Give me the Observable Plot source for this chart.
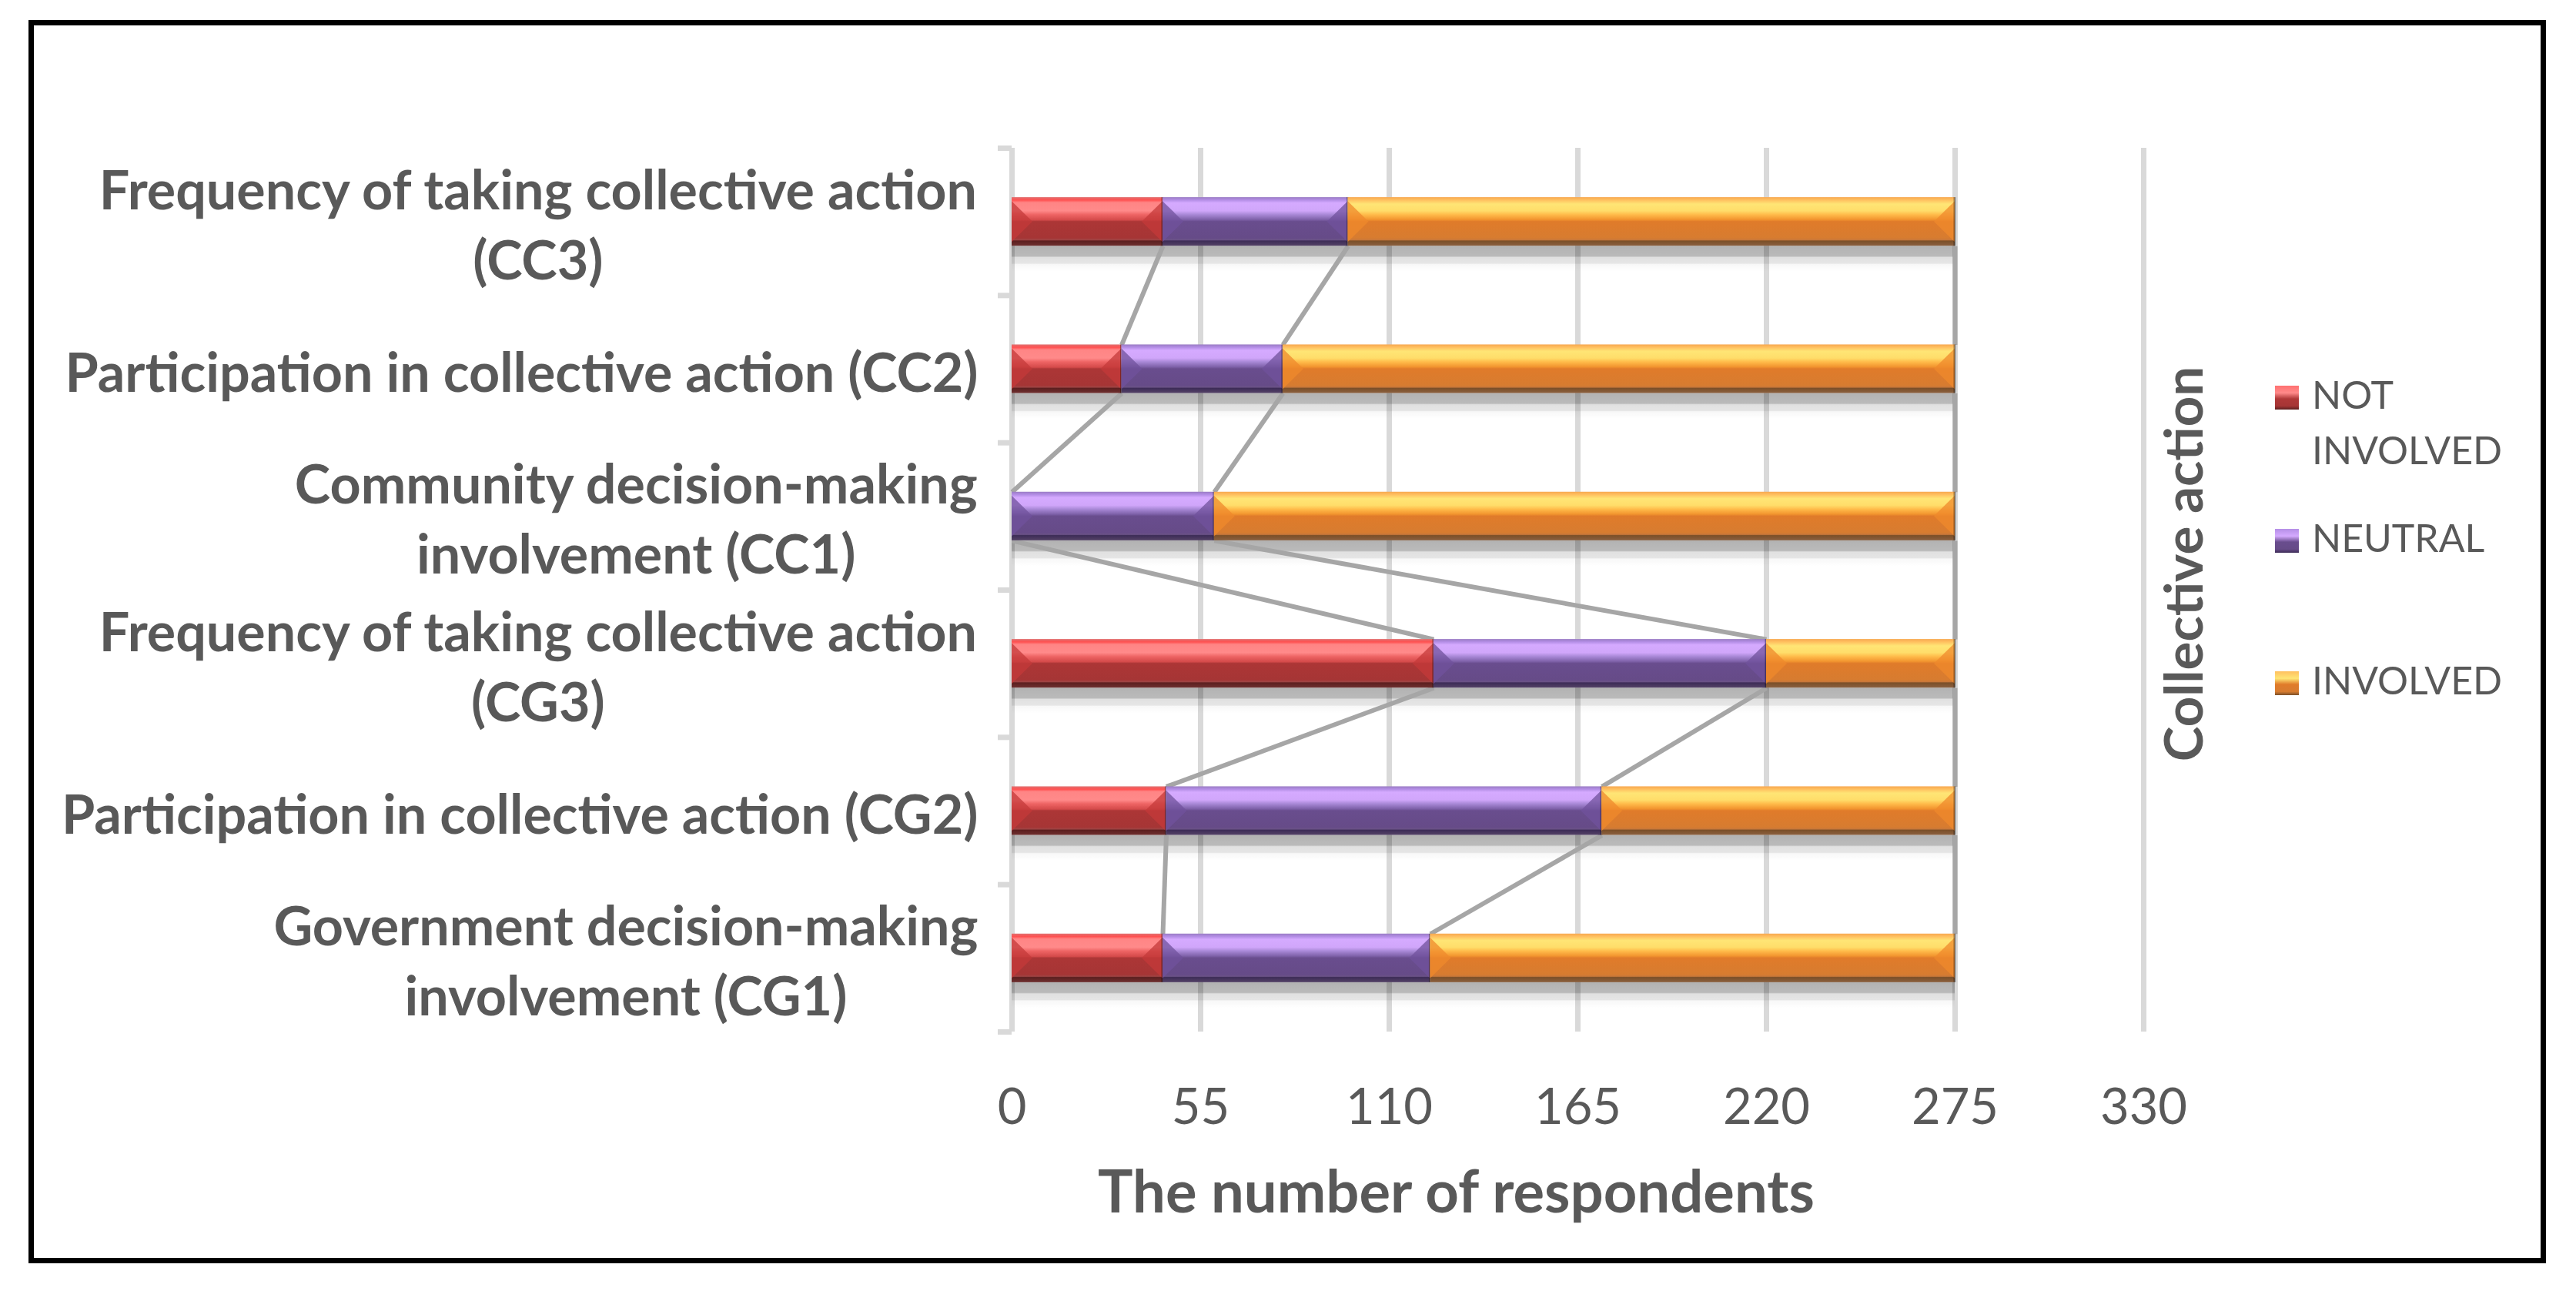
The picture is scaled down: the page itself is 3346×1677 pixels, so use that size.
<!DOCTYPE html>
<html><head><meta charset="utf-8">
<script src="https://cdn.jsdelivr.net/npm/d3@7"></script>
<script src="https://cdn.jsdelivr.net/npm/@observablehq/plot@0.6"></script>
<style>
html,body{margin:0;padding:0;background:#fff;}
#wrap{position:relative;width:3346px;height:1677px;overflow:hidden;background:#fff;}
#frame{position:absolute;left:37px;top:26px;width:3256px;height:1601px;border:7px solid #000;pointer-events:none;}
.leg{position:absolute;font-family:Lato,sans-serif;font-size:50px;color:#595959;line-height:72px;white-space:nowrap;}
.sw{position:absolute;width:31px;height:31px;}
</style></head><body><div id="wrap"><div id="frame"></div></div>
<script>
const categories = [
  "Frequency of taking collective action\n(CC3)",
  "Participation in collective action (CC2)",
  "Community decision-making\ninvolvement (CC1)",
  "Frequency of taking collective action\n(CG3)",
  "Participation in collective action (CG2)",
  "Government decision-making\ninvolvement (CG1)"
];
const seriesNames = ["NOT INVOLVED", "NEUTRAL", "INVOLVED"];
const notInvolved = [44, 32, 0, 123, 45, 44];
const neutral     = [54, 47, 59, 97, 127, 78];
const involved    = [177, 196, 216, 55, 103, 153];
const xTicks = [0, 55, 110, 165, 220, 275, 330];
const xLabel = "The number of respondents";
const sideTitle = "Collective action";

const values = [notInvolved, neutral, involved];
const gradIds = ["gRed", "gPurple", "gOrange"];
const bevelColors = ["#c43a3a", "#70519c", "#ef8a2c"];
const half = 0.165;

const segs = [];
categories.forEach((c, i) => {
  let s = 0;
  values.forEach((arr, k) => {
    if (arr[i] > 0) segs.push({i, k, x1: s, x2: s + arr[i]});
    s += arr[i];
  });
});
const cum = values.map((_, k) => categories.map((c, i) => values.slice(0, k + 1).reduce((a, arr) => a + arr[i], 0)));
const totals = cum[2];
const links = [];
for (let k = 0; k < 3; k++)
  for (let i = 0; i < categories.length - 1; i++)
    links.push({x1: cum[k][i], y1: i + half, x2: cum[k][i + 1], y2: i + 1 - half});

// measure label widths for centered multi-line labels right-aligned to the axis
const LABEL_FS = 70;
const cv = document.createElement("canvas").getContext("2d");
cv.font = `bold ${LABEL_FS}px Lato`;
const labelMarks = categories.map((c, i) => {
  const w = Math.max(...c.split("\n").map(s => cv.measureText(s).width));
  return Plot.text([c], {x: 0, y: () => i, textAnchor: "middle", lineAnchor: "middle", dx: -(44 + w / 2),
    fontSize: LABEL_FS, fontWeight: "bold", fill: "#595959", lineHeight: 1.3});
});

function bevel(color) {
  return function(index, scales, vals, dims, ctx, next) {
    const g = next(index, scales, vals, dims, ctx);
    const sel = d3.select(g);
    const rects = sel.selectAll("rect").nodes();
    rects.forEach(r => {
      const x = +r.getAttribute("x"), y = +r.getAttribute("y"), w = +r.getAttribute("width"), h = +r.getAttribute("height");
      const b = Math.min(27, w / 2);
      const pts = [[x, y + h * 0.08], [x + b, y + h * 0.5], [x, y + h * 0.92]];
      const pts2 = [[x + w, y + h * 0.08], [x + w - b, y + h * 0.5], [x + w, y + h * 0.92]];
      [pts, pts2].forEach(p => sel.append("polygon").attr("points", p.map(q => q.join(",")).join(" "))
        .attr("fill", color).attr("fill-opacity", 0.75));
      sel.append("line").attr("x1", x + w).attr("x2", x + w).attr("y1", y).attr("y2", y + h)
        .attr("stroke", "#000").attr("stroke-opacity", 0.35).attr("stroke-width", 3);
    });
    return g;
  };
}

const barMarks = values.map((arr, k) => Plot.rectX(segs.filter(d => d.k === k), {
  x1: "x1", x2: "x2", y1: d => d.i - half, y2: d => d.i + half,
  fill: `url(#${gradIds[k]})`, render: bevel(bevelColors[k])
}));

const plot = Plot.plot({
  width: 3346, height: 1677,
  marginLeft: 1314, marginRight: 562, marginTop: 192, marginBottom: 337,
  style: {fontFamily: "Lato, sans-serif", background: "transparent", color: "#595959"},
  x: {domain: [0, 330]},
  y: {domain: [-0.5, categories.length - 0.5], reverse: true},
  marks: [
    Plot.ruleX(xTicks, {stroke: "#d9d9d9", strokeWidth: 7}),
    Plot.axisY(d3.range(categories.length + 1).map(j => j - 0.5), {tickSize: 18, stroke: "#d9d9d9", strokeWidth: 7, tickFormat: () => "", label: null}),
    Plot.axisX(xTicks, {tickSize: 0, tickPadding: 73, fontSize: 65, fill: "#595959", label: null, tickFormat: d => String(d)}),
    Plot.rectX(categories.map((c, i) => ({i, x: totals[i]})), {x1: 0, x2: "x", y1: d => d.i + half, y2: d => d.i + half + 0.175, fill: "url(#gShadow)"}),
    Plot.link(links, {x1: "x1", y1: "y1", x2: "x2", y2: "y2", stroke: "#a6a6a6", strokeWidth: 6}),
    ...barMarks,
    ...labelMarks,
    Plot.text([xLabel], {frameAnchor: "bottom", dx: -158, dy: 210, lineAnchor: "middle", fontSize: 76, fontWeight: "bold", fill: "#595959"}),
    Plot.text([sideTitle], {frameAnchor: "right", textAnchor: "middle", rotate: -90, dx: 54, dy: -34, lineAnchor: "middle", fontSize: 69, fontWeight: "bold", fill: "#595959"})
  ]
});

const defs = d3.select(plot).insert("defs", ":first-child");
function grad(id, stops) {
  const g = defs.append("linearGradient").attr("id", id).attr("x1", 0).attr("y1", 0).attr("x2", 0).attr("y2", 1);
  stops.forEach(([o, c, op]) => g.append("stop").attr("offset", o).attr("stop-color", c).attr("stop-opacity", op ?? 1));
}
grad("gRed", [[0,"#e07070"],[0.06,"#ff5050"],[0.11,"#ff8585"],[0.28,"#ff8a8a"],[0.36,"#ee6464"],[0.47,"#d44a4a"],[0.5,"#ac3636"],[0.84,"#a63535"],[0.88,"#9e4444"],[0.9,"#5c1f1f"],[1,"#6e3030"]]);
grad("gPurple", [[0,"#9a7cc4"],[0.06,"#b48ee6"],[0.12,"#d5aaff"],[0.28,"#d0a6fa"],[0.36,"#a888d6"],[0.46,"#7f62aa"],[0.5,"#694d8e"],[0.84,"#664b88"],[0.88,"#6a5286"],[0.9,"#3d2c57"],[1,"#544266"]]);
grad("gOrange", [[0,"#f7a850"],[0.06,"#ffc060"],[0.14,"#ffe575"],[0.28,"#ffdd6a"],[0.36,"#ffbb4a"],[0.46,"#f2952f"],[0.5,"#e07b2a"],[0.84,"#d77c30"],[0.88,"#c7773a"],[0.9,"#7b4f28"],[1,"#8a6040"]]);
grad("gShadow", [[0,"#000",0.3],[0.4,"#000",0.27],[0.45,"#000",0.12],[0.68,"#000",0.1],[0.72,"#000",0.03],[1,"#000",0.0]]);

const wrap = document.getElementById("wrap");
plot.style.position = "absolute"; plot.style.left = "0"; plot.style.top = "0";
wrap.insertBefore(plot, wrap.firstChild);

// legend
const swGrad = [
  "linear-gradient(#ff7070 0%, #ff8a8a 30%, #b03838 55%, #a63535 85%, #5c1f1f 100%)",
  "linear-gradient(#b48ee6 0%, #d5aaff 30%, #694d8e 55%, #664b88 85%, #3d2c57 100%)",
  "linear-gradient(#ffc060 0%, #ffe575 30%, #e07b2a 55%, #d77c30 85%, #7b4f28 100%)"
];
const legRows = [
  {sw: 501, tx: 476},
  {sw: 687, tx: 662},
  {sw: 872, tx: 847}
];
seriesNames.forEach((name, k) => {
  const s = document.createElement("div");
  s.className = "sw"; s.style.left = "2955px"; s.style.top = legRows[k].sw + "px"; s.style.background = swGrad[k];
  wrap.appendChild(s);
  const t = document.createElement("div");
  t.className = "leg"; t.style.left = "3003px"; t.style.top = legRows[k].tx + "px";
  t.innerHTML = name === "NOT INVOLVED" ? "NOT<br>INVOLVED" : name;
  wrap.appendChild(t);
});
</script></body></html>
